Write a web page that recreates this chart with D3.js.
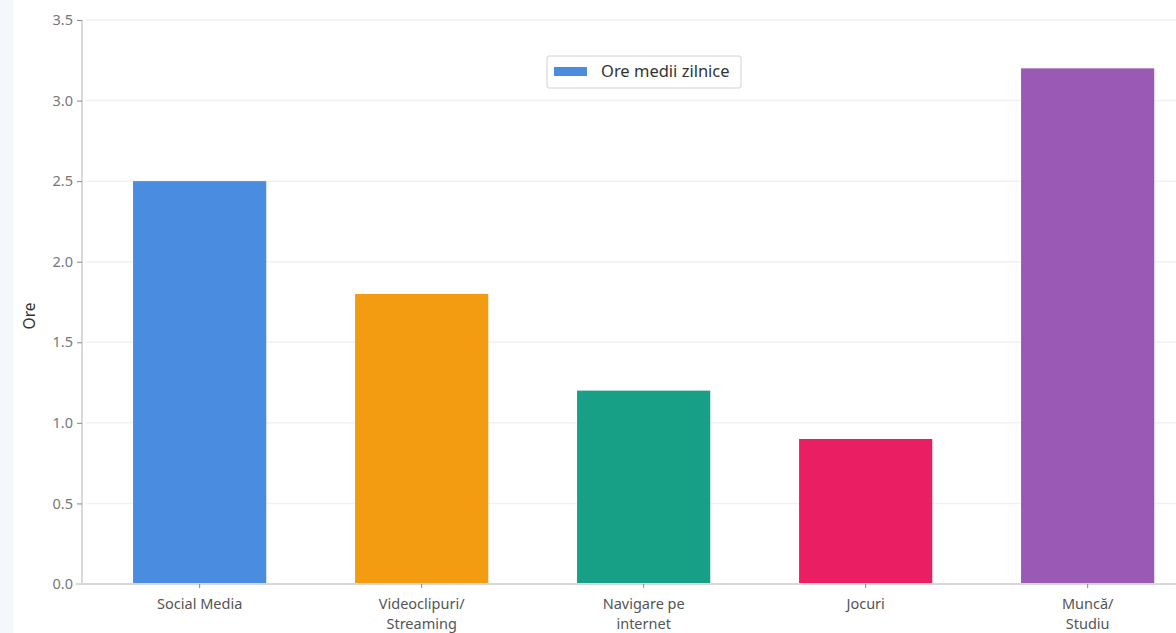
<!DOCTYPE html>
<html lang="ro">
<head>
  <meta charset="UTF-8">
  <title>Ore medii zilnice</title>
  <script src="https://d3js.org/d3.v7.min.js"></script>
  <style>
    html, body { margin: 0; padding: 0; background: #f4f8fc; overflow: hidden; }
    #chart { position: absolute; left: 13px; top: 0; width: 1163px; height: 633px; background: #fff; }
    svg { display: block; }
    svg text { font-family: "Noto Sans", "Open Sans", sans-serif; }
  </style>
</head>
<body>
<div id="chart"></div>
<script>
// data
var categories = ["Social Media", "Videoclipuri/ Streaming", "Navigare pe internet", "Jocuri", "Muncă/ Studiu"];
var labelLines = [["Social Media"], ["Videoclipuri/", "Streaming"], ["Navigare pe", "internet"], ["Jocuri"], ["Muncă/", "Studiu"]];
var hours = [2.5, 1.8, 1.2, 0.9, 3.2];
var barColors = ["#4a8ce0", "#f39c12", "#17a086", "#e91e63", "#9b59b6"];
var yTicks = [0, 0.5, 1, 1.5, 2, 2.5, 3, 3.5];
var seriesName = "Ore medii zilnice";

var totalW = 1163, totalH = 633;
var margin = {top: 20, left: 69, bottom: 49};
var plotH = totalH - margin.top - margin.bottom;

var svg = d3.select("#chart").append("svg")
  .attr("width", totalW)
  .attr("height", totalH);

var g = svg.append("g")
  .attr("transform", "translate(" + margin.left + "," + margin.top + ")");

var step = 222;
var x = d3.scaleBand()
  .domain(categories)
  .range([0, step * (5 - 0.4 + 0.46)])
  .paddingInner(0.4)
  .paddingOuter(0.23);

var y = d3.scaleLinear().domain([0, 3.5]).range([plotH, 0]);

// grid
g.selectAll(".grid")
  .data(yTicks.filter(function(d) { return d > 0; }))
  .enter().append("line")
  .attr("x1", 4).attr("x2", totalW)
  .attr("y1", function(d) { return y(d); })
  .attr("y2", function(d) { return y(d); })
  .attr("stroke", "#f1f1f1")
  .attr("stroke-width", 1.5);

// bars
g.selectAll(".bar")
  .data(hours)
  .enter().append("rect")
  .attr("x", function(d, i) { return x(categories[i]); })
  .attr("y", function(d) { return y(d); })
  .attr("width", x.bandwidth())
  .attr("height", function(d) { return plotH - y(d); })
  .attr("fill", function(d, i) { return barColors[i]; });

// y axis
var yAxis = g.append("g")
  .call(d3.axisLeft(y).tickValues(yTicks).tickFormat(d3.format(".1f")).tickSize(5).tickPadding(4));
yAxis.select(".domain").attr("stroke", "#d8d8d8").attr("stroke-width", 2).attr("d", "M0," + plotH + "V0");
yAxis.selectAll(".tick line").attr("stroke", "#888");
yAxis.selectAll(".tick text").attr("fill", "#777").style("font-size", "14.5px");

// x axis
var xAxis = g.append("g")
  .attr("transform", "translate(0," + plotH + ")")
  .call(d3.axisBottom(x).tickSize(4).tickFormat(""));
xAxis.select(".domain").attr("stroke", "#d8d8d8").attr("stroke-width", 2).attr("d", "M-6,0H" + totalW);
xAxis.selectAll(".tick line").attr("stroke", "#888");
xAxis.selectAll(".tick").each(function(d, i) {
  var t = d3.select(this).append("text")
    .attr("fill", "#555")
    .attr("text-anchor", "middle")
    .style("font-size", "14.5px")
    .attr("y", 25);
  labelLines[i].forEach(function(line, k) {
    t.append("tspan").attr("x", 0).attr("dy", k === 0 ? 0 : 20).text(line);
  });
});

// y label
g.append("text")
  .attr("transform", "rotate(-90)")
  .attr("x", -296)
  .attr("y", -47)
  .attr("text-anchor", "middle")
  .attr("fill", "#333")
  .style("font-size", "15.5px")
  .text("Ore");

// legend
var legend = svg.append("g").attr("transform", "translate(534,56)");
legend.append("rect")
  .attr("width", 194).attr("height", 32).attr("rx", 2)
  .attr("fill", "#fff").attr("stroke", "#d0d0d0");
legend.append("rect")
  .attr("x", 7).attr("y", 11).attr("width", 33).attr("height", 9)
  .attr("fill", barColors[0]);
legend.append("text")
  .attr("x", 54).attr("y", 21)
  .attr("fill", "#333")
  .style("font-size", "16.5px")
  .text(seriesName);
</script>
</body>
</html>
